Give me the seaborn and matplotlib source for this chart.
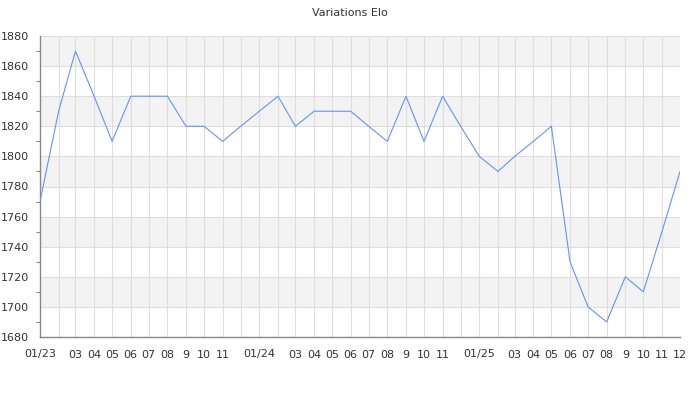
import pandas as pd
import numpy as np
import seaborn as sns
import matplotlib.pyplot as plt

# monthly Elo values, Jan 2023 -> Dec 2025
months = pd.date_range('2023-01-01', '2025-12-01', freq='MS')
elo = [1770, 1830, 1870, 1840, 1810, 1840, 1840, 1840, 1820, 1820, 1810, 1820,
       1830, 1840, 1820, 1830, 1830, 1830, 1820, 1810, 1840, 1810, 1840, 1820,
       1800, 1790, 1800, 1810, 1820, 1730, 1700, 1690, 1720, 1710, 1750, 1790]

# x tick labels as shown (Feb / Dec hidden where they would overlap)
tick_labels = ['01/23', '', '03', '04', '05', '06', '07', '08', '9', '10', '11', '',
               '01/24', '', '03', '04', '05', '06', '07', '08', '9', '10', '11', '',
               '01/25', '', '03', '04', '05', '06', '07', '08', '9', '10', '11', '12']

df = pd.DataFrame({'date': months, 'elo': elo})

sns.set_style('white')
plt.rcParams['font.family'] = ['DejaVu Sans']

fig = plt.figure(figsize=(7, 4), dpi=100)
ax = fig.add_axes([40 / 700, 1 - 337 / 400, 640 / 700, 301 / 400])

# alternating grey bands
for lo in range(1700, 1880, 40):
    ax.axhspan(lo, lo + 20, color='#f3f3f3', zorder=0, lw=0)

sns.lineplot(data=df, x='date', y='elo', ax=ax, color='#6495ed', lw=0.8, zorder=3)

ax.set_xlim(months[0], months[-1])
ax.set_ylim(1680, 1880)
ax.set_xticks(months)
ax.set_xticklabels(tick_labels)
ax.set_yticks(np.arange(1680, 1881, 20))
ax.set_yticks(np.arange(1690, 1880, 20), minor=True)

ax.grid(True, which='major', color='#dedede', lw=0.8, zorder=1)
ax.set_axisbelow(True)
ax.tick_params(axis='x', length=0, pad=9, labelsize=8, colors='#333333')
ax.tick_params(axis='y', which='major', length=5, width=0.8, color='#888888',
               labelsize=8, labelcolor='#333333', pad=3)
ax.tick_params(axis='y', which='minor', length=3, width=0.8, color='#888888', left=True)

for s in ['top', 'right']:
    ax.spines[s].set_visible(False)
for s in ['left', 'bottom']:
    ax.spines[s].set_color('#888888')
    ax.spines[s].set_linewidth(1)

ax.set_xlabel('')
ax.set_ylabel('')
fig.suptitle('Variations Elo', y=0.98, fontsize=8, color='#333333')

fig.savefig('out.png', dpi=100)
